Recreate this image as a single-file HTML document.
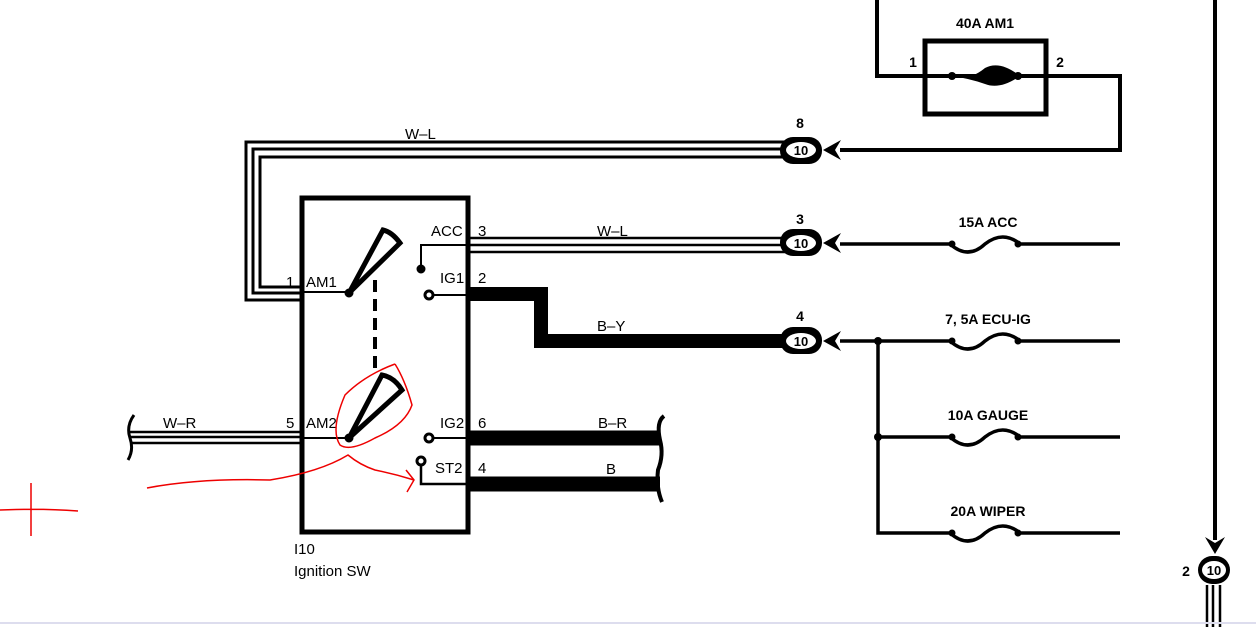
<!DOCTYPE html>
<html><head><meta charset="utf-8"><style>
html,body{margin:0;padding:0;background:#fff;width:1256px;height:627px;overflow:hidden}
svg text{font-family:"Liberation Sans",Arial,sans-serif;fill:#000}
</style></head><body>
<svg width="1256" height="627" viewBox="0 0 1256 627" xmlns="http://www.w3.org/2000/svg">
<g fill="none" stroke="#000" stroke-linejoin="miter">
<path d="M300,300 H246 V142 H785" stroke-width="3"/>
<path d="M300,293 H253 V149 H785" stroke-width="3"/>
<path d="M300,287 H260 V157 H785" stroke-width="3"/>
<rect x="302" y="198" width="166" height="334" stroke-width="5"/>
<line x1="302" y1="292" x2="349" y2="292" stroke-width="2"/>
<path d="M349,293 L383,230 Q392,232 400,243 Z" stroke-width="5"/>
<circle cx="349" cy="293" r="4" fill="#000"/>
<line x1="375" y1="280" x2="375" y2="370" stroke-width="4" stroke-dasharray="12,7"/>
<line x1="302" y1="438" x2="349" y2="438" stroke-width="2"/>
<path d="M349,438 L382,375 Q394,377 402,390 Z" stroke-width="5"/>
<circle cx="349" cy="438" r="4" fill="#000"/>
<path d="M421,268 V245 H468" stroke-width="2"/>
<circle cx="421" cy="269" r="4" fill="#000"/>
<path d="M470,238 H785 M470,245 H785 M470,252 H785" stroke-width="2.5"/>
<line x1="429" y1="295" x2="468" y2="295" stroke-width="2"/>
<circle cx="429" cy="295" r="4" fill="#fff" stroke-width="3"/>
<path d="M470,294 H541 V341 H785" stroke-width="14"/>
<line x1="429" y1="438" x2="468" y2="438" stroke-width="2"/>
<circle cx="429" cy="438" r="4" fill="#fff" stroke-width="3"/>
<path d="M470,438 H660" stroke-width="15"/>
<path d="M421,462 V484 H468" stroke-width="2.5"/>
<circle cx="421" cy="461" r="4" fill="#fff" stroke-width="3"/>
<path d="M470,484 H660" stroke-width="15"/>
<path d="M664,416 Q656,422 660,440 Q664,455 658,470 Q656,488 662,502" stroke-width="4"/>
<path d="M130,432 H300 M130,437 H300 M130,443 H300" stroke-width="2.5"/>
<path d="M134,415 Q126,426 130,438 Q134,450 128,460" stroke-width="3"/>
<rect x="925" y="41" width="121" height="73" stroke-width="5"/>
<path d="M877,0 V76 H1120 V150 H840" stroke-width="4"/>
<path d="M840,244 H950 Q968,260 985,244 Q1003,230 1020,244 H1120" stroke-width="3.5"/>
<path d="M840,341 H950 Q968,357 985,341 Q1003,327 1020,341 H1120" stroke-width="3.5"/>
<path d="M878,437 H950 Q968,453 985,437 Q1003,423 1020,437 H1120" stroke-width="3.5"/>
<path d="M878,341 V533 H950 Q968,549 985,533 Q1003,519 1020,533 H1120" stroke-width="3.5"/>
<line x1="1215" y1="0" x2="1215" y2="540" stroke-width="4"/>
<path d="M1207,627 V585 M1213,627 V585 M1220,627 V585" stroke-width="2.5"/>
</g>
<g fill="#000">
<path d="M950,76 Q968,82 985,68 Q1000,60 1020,76 Q1000,90 985,84 Q968,78 950,76 Z"/>
<circle cx="878" cy="341" r="4"/><circle cx="878" cy="437" r="4"/>
<circle cx="952" cy="244" r="3.5"/><circle cx="1018" cy="244" r="3.5"/>
<circle cx="952" cy="341" r="3.5"/><circle cx="1018" cy="341" r="3.5"/>
<circle cx="952" cy="437" r="3.5"/><circle cx="1018" cy="437" r="3.5"/>
<circle cx="952" cy="533" r="3.5"/><circle cx="1018" cy="533" r="3.5"/>
<circle cx="952" cy="76" r="4"/><circle cx="1018" cy="76" r="4"/>
<rect x="780" y="137" width="42" height="27" rx="13"/>
<rect x="780" y="229" width="42" height="27" rx="13"/>
<rect x="780" y="327" width="42" height="27" rx="13"/>
<path d="M823,150 L841,140 L835,150 L841,160 Z"/>
<path d="M823,243 L841,233 L835,243 L841,253 Z"/>
<path d="M823,341 L841,331 L835,341 L841,351 Z"/>
<path d="M1215,554 L1205,537 L1215,543 L1225,537 Z"/>
<rect x="1198" y="556" width="32" height="28" rx="14"/>
</g>
<g fill="#fff">
<ellipse cx="801" cy="150" rx="15" ry="8"/><ellipse cx="801" cy="243" rx="15" ry="8"/><ellipse cx="801" cy="341" rx="15" ry="8"/><ellipse cx="1214" cy="570" rx="12" ry="9"/>
</g>
<g font-size="14" font-weight="bold" text-anchor="middle">
<text x="801" y="155" font-size="13">10</text><text x="801" y="248" font-size="13">10</text><text x="801" y="346" font-size="13">10</text><text x="1214" y="575" font-size="13">10</text>
<text x="800" y="128">8</text><text x="800" y="224">3</text><text x="800" y="321">4</text>
<text x="985" y="28">40A AM1</text><text x="913" y="67">1</text><text x="1060" y="67">2</text>
<text x="988" y="227">15A ACC</text><text x="988" y="324">7, 5A ECU-IG</text>
<text x="988" y="420">10A GAUGE</text><text x="988" y="516">20A WIPER</text>
<text x="1186" y="576">2</text>
</g>
<g font-size="15">
<text x="405" y="139">W–L</text><text x="597" y="236">W–L</text><text x="597" y="331">B–Y</text>
<text x="598" y="428">B–R</text><text x="606" y="474">B</text><text x="163" y="428">W–R</text>
<text x="286" y="287">1</text><text x="306" y="287">AM1</text>
<text x="286" y="428">5</text><text x="306" y="428">AM2</text>
<text x="431" y="236">ACC</text><text x="478" y="236">3</text>
<text x="440" y="283">IG1</text><text x="478" y="283">2</text>
<text x="440" y="428">IG2</text><text x="478" y="428">6</text>
<text x="435" y="473">ST2</text><text x="478" y="473">4</text>
<text x="294" y="554">I10</text><text x="294" y="576">Ignition SW</text>
</g>
<g fill="none" stroke="#e00" stroke-width="1.5">
<path d="M0,510 Q40,508 78,511 M31,483 V536"/>
<path d="M395,364 Q405,380 412,405 Q405,425 375,438 Q350,452 340,445 Q330,430 345,395 Q365,375 395,364"/>
<path d="M147,488 Q200,478 270,480 Q320,472 348,455 Q360,465 375,470 Q395,474 414,480 M406,470 L414,480 L407,492"/>
</g>
<line x1="0" y1="623" x2="1256" y2="623" stroke="#dde" stroke-width="2"/>
</svg>
</body></html>
